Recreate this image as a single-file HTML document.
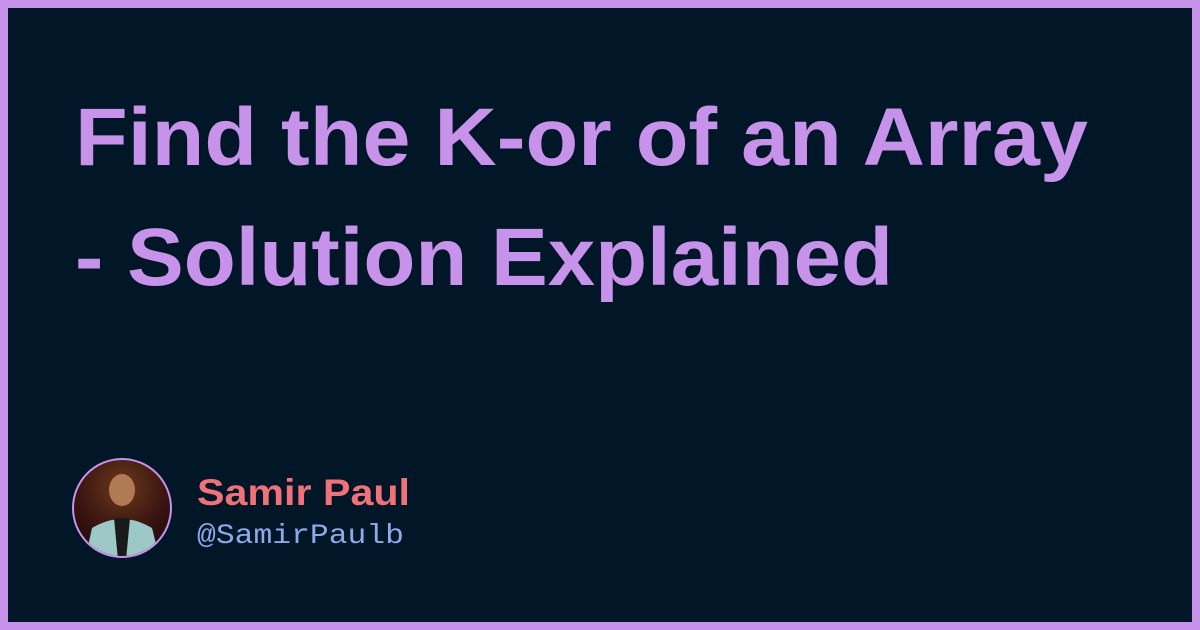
<!DOCTYPE html>
<html><head><meta charset="utf-8"><style>
html,body{margin:0;padding:0;background:#c792ea;}
.f{position:absolute;left:0;top:0;width:1200px;height:630px;}
</style></head><body>
<svg class="f" width="1200" height="630" viewBox="0 0 1200 630" xmlns="http://www.w3.org/2000/svg">
<defs>
<radialGradient id="bg" cx="0.5" cy="0.3" r="0.7">
<stop offset="0" stop-color="#6a3a1a"/><stop offset="0.6" stop-color="#3a1410"/><stop offset="1" stop-color="#1d0a0c"/>
</radialGradient>
<clipPath id="c"><circle cx="122" cy="508" r="48"/></clipPath>
</defs>
<rect x="0" y="0" width="1200" height="630" fill="#c792ea"/>
<rect x="8" y="8" width="1184" height="614" fill="#011627"/>
<g font-family="'Liberation Sans', sans-serif" font-weight="bold" fill="#c792ea" font-size="82">
<text x="75" y="165" textLength="1013" lengthAdjust="spacingAndGlyphs">Find the K-or of an Array</text>
<text x="75" y="285" textLength="818" lengthAdjust="spacingAndGlyphs">- Solution Explained</text>
</g>
<circle cx="122" cy="508" r="50" fill="#c792ea"/>
<g clip-path="url(#c)">
<rect x="70" y="456" width="104" height="104" fill="url(#bg)"/>
<ellipse cx="122" cy="490" rx="13" ry="16" fill="#b07a55"/>
<path d="M85 560 L92 528 Q122 510 152 528 L160 560 Z" fill="#9cc9c6"/>
<path d="M114 518 L130 518 L126 560 L118 560 Z" fill="#1a1a1a"/>
</g>
<text x="197" y="505" font-family="'Liberation Sans', sans-serif" font-weight="bold" font-size="37" fill="#f07178" textLength="213" lengthAdjust="spacingAndGlyphs">Samir Paul</text>
<text x="197" y="543" font-family="'Liberation Mono', monospace" font-size="28" fill="#8fa8e8" textLength="207" lengthAdjust="spacingAndGlyphs">@SamirPaulb</text>
</svg>
</body></html>
